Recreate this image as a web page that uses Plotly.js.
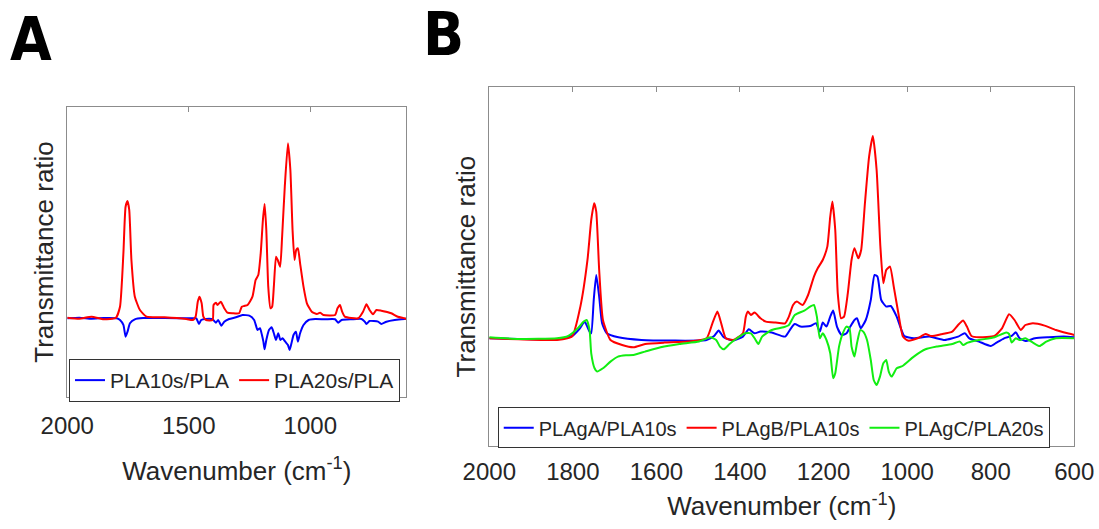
<!DOCTYPE html>
<html>
<head>
<meta charset="utf-8">
<script src="https://cdn.plot.ly/plotly-3.0.1.min.js"></script>
<style>
html,body{margin:0;padding:0;background:#fff;}
#chart{width:1099px;height:529px;}
</style>
</head>
<body>
<div id="chart"></div>
<script>
// ---------- Panel A data ----------
var wnA_PLA10s = [2000,1950,1900,1850,1797,1783,1769,1760,1752,1742,1722,1688,1600,1483,1469,1458,1449,1429,1402,1388,1379,1366,1354,1334,1306,1279,1251,1231,1217,1207,1199,1193,1188,1181,1170,1159,1150,1141,1132,1123,1114,1103,1092,1085,1076,1069,1059,1051,1042,1028,1007,980,939,898,885,871,830,789,776,769,756,721,708,687,653,612,605];
var ratioA_PLA10s = [0.997,1.003,0.993,1.0,0.997,0.980,0.930,0.813,0.863,0.947,0.987,1.0,1.0,0.997,0.997,0.940,0.980,0.990,0.987,0.953,0.980,0.923,0.963,0.990,1.007,1.030,1.023,0.980,0.880,0.897,0.830,0.763,0.687,0.780,0.880,0.907,0.847,0.780,0.847,0.780,0.797,0.763,0.730,0.680,0.763,0.830,0.863,0.763,0.847,0.930,0.980,0.990,0.987,0.987,0.953,0.980,0.987,0.990,0.963,0.940,0.970,0.963,0.940,0.963,0.980,0.990,0.993];

var wnA_PLA20s = [2000,1950,1900,1850,1800,1783,1769,1760,1752,1745,1736,1722,1701,1674,1600,1510,1483,1472,1463,1456,1447,1440,1429,1402,1398,1388,1382,1368,1354,1341,1320,1293,1282,1272,1258,1238,1225,1214,1204,1195,1188,1181,1173,1164,1157,1150,1141,1134,1124,1116,1105,1092,1082,1073,1065,1058,1051,1042,1028,1014,994,973,960,946,898,888,878,869,858,803,783,769,756,742,728,708,667,640,612,605];
var ratioA_PLA20s = [1.003,0.993,1.013,0.987,1.003,1.113,1.647,2.113,2.170,2.080,1.580,1.213,1.080,1.013,1.007,0.990,0.980,1.013,1.163,1.213,1.147,1.013,0.980,0.980,1.130,1.153,1.130,1.163,1.097,1.053,1.047,1.047,1.113,1.120,1.130,1.213,1.380,1.430,1.647,1.980,2.140,1.880,1.313,1.097,1.113,1.313,1.613,1.580,1.513,1.813,2.313,2.747,2.480,1.880,1.580,1.680,1.697,1.547,1.313,1.147,1.063,1.040,1.053,1.030,1.030,1.097,1.130,1.063,1.013,0.997,1.063,1.137,1.080,1.037,1.080,1.073,1.047,1.013,0.997,0.990];

// ---------- Panel B data ----------
var wnB_PLAgA = [2000,1930,1838,1802,1783,1772,1760,1756,1750,1744,1737,1730,1719,1691,1636,1563,1480,1462,1451,1439,1416,1393,1379,1365,1351,1324,1292,1278,1269,1255,1232,1218,1209,1202,1193,1184,1177,1168,1157,1145,1136,1126,1120,1111,1099,1087,1078,1071,1062,1050,1039,1025,1007,984,947,910,878,862,851,828,800,786,768,750,740,731,717,694,662,625,600];
var ratioB_PLAgA = [1.0,0.993,0.990,1.023,1.100,1.167,1.067,1.050,1.383,1.633,1.417,1.150,1.050,1.010,0.983,0.977,0.983,1.023,1.077,1.010,0.977,1.017,1.090,1.050,1.067,1.057,1.017,1.100,1.143,1.117,1.123,1.150,1.067,1.157,1.117,1.217,1.277,1.117,1.033,1.050,1.117,1.183,1.200,1.100,1.183,1.383,1.633,1.617,1.383,1.317,1.323,1.217,1.023,1.0,1.017,0.983,1.017,1.050,1.0,0.967,0.923,0.957,1.0,1.023,1.060,1.0,0.973,1.0,1.010,1.017,1.010];

var wnB_PLAgB = [2000,1930,1838,1802,1782,1765,1756,1749,1744,1737,1728,1710,1682,1655,1627,1581,1526,1480,1466,1454,1445,1434,1416,1393,1386,1381,1374,1365,1351,1338,1315,1292,1283,1273,1264,1250,1237,1223,1214,1202,1191,1184,1179,1172,1166,1158,1151,1142,1133,1126,1117,1110,1101,1091,1082,1073,1064,1057,1050,1041,1032,1021,1010,998,975,956,942,919,892,878,866,857,846,828,791,773,756,743,728,717,699,671,644,616,600];
var ratioB_PLAgB = [1.0,0.990,0.983,1.017,1.317,1.783,2.183,2.350,2.267,1.683,1.183,0.983,0.933,0.910,0.943,0.957,0.967,1.0,1.150,1.267,1.150,1.0,0.983,1.050,1.217,1.267,1.233,1.257,1.200,1.167,1.157,1.150,1.217,1.333,1.367,1.333,1.433,1.617,1.700,1.783,1.917,2.217,2.367,2.083,1.450,1.200,1.217,1.450,1.783,1.900,1.800,1.883,2.350,2.817,3.023,2.683,1.917,1.550,1.683,1.717,1.517,1.250,1.017,0.977,1.0,1.043,1.023,1.040,1.067,1.133,1.177,1.117,1.023,1.010,1.023,1.100,1.240,1.183,1.083,1.133,1.150,1.127,1.083,1.050,1.033];

var wnB_PLAgC = [2000,1930,1838,1811,1788,1774,1767,1760,1756,1748,1742,1728,1710,1692,1673,1655,1627,1590,1545,1498,1471,1457,1448,1439,1425,1407,1388,1374,1365,1356,1347,1324,1296,1283,1269,1246,1232,1223,1216,1209,1202,1193,1184,1177,1172,1163,1154,1145,1138,1133,1126,1120,1112,1105,1096,1087,1080,1073,1065,1057,1050,1044,1037,1025,1011,984,956,929,892,874,866,855,828,791,763,756,750,740,731,717,699,683,667,644,600];
var ratioB_PLAgC = [1.010,0.993,1.0,1.023,1.100,1.167,1.183,1.083,0.850,0.700,0.667,0.700,0.767,0.817,0.830,0.833,0.867,0.910,0.943,0.967,1.010,0.983,0.917,0.890,0.943,1.0,1.050,1.050,1.0,0.943,1.017,1.083,1.110,1.133,1.233,1.277,1.317,1.333,1.217,1.0,1.050,0.983,0.850,0.600,0.650,0.917,1.050,1.117,1.100,0.917,0.817,0.950,1.083,1.067,0.983,0.783,0.583,0.533,0.617,0.750,0.783,0.667,0.617,0.700,0.723,0.817,0.890,0.917,0.943,0.967,0.933,0.957,0.983,1.010,1.057,1.043,0.957,1.0,0.983,1.0,0.957,0.923,0.967,1.0,1.0];

var namesA = ['PLA10s/PLA','PLA20s/PLA'];
var namesB = ['PLAgA/PLA10s','PLAgB/PLA10s','PLAgC/PLA20s'];
var ticksA = [2000,1500,1000];
var ticksB = [2000,1800,1600,1400,1200,1000,800,600];

var BLUE = '#0000ff', RED = '#ff0000', GREEN = '#11ee11';
var FONT = 'Liberation Sans, Arial, Helvetica, sans-serif';
var TXT = '#262626';
var AXC = '#8c8c8c';

function ln(color){ return {color:color, width:2, shape:'spline', smoothing:0.5}; }

var traces = [
  {x: wnA_PLA10s, y: ratioA_PLA10s, name: namesA[0], xaxis:'x', yaxis:'y', legend:'legend', mode:'lines', line:ln(BLUE)},
  {x: wnA_PLA20s, y: ratioA_PLA20s, name: namesA[1], xaxis:'x', yaxis:'y', legend:'legend', mode:'lines', line:ln(RED)},
  {x: wnB_PLAgA, y: ratioB_PLAgA, name: namesB[0], xaxis:'x2', yaxis:'y2', legend:'legend2', mode:'lines', line:ln(BLUE)},
  {x: wnB_PLAgB, y: ratioB_PLAgB, name: namesB[1], xaxis:'x2', yaxis:'y2', legend:'legend2', mode:'lines', line:ln(RED)},
  {x: wnB_PLAgC, y: ratioB_PLAgC, name: namesB[2], xaxis:'x2', yaxis:'y2', legend:'legend2', mode:'lines', line:ln(GREEN)}
];

function xax(domain, range, tickvals, anchor, standoffLbl, titleStandoff){
  return {
    domain: domain, range: range, anchor: anchor,
    tickvals: tickvals, ticks:'inside', ticklen:5, tickcolor:AXC, tickwidth:1,
    showline:true, linecolor:AXC, linewidth:1, mirror:'ticks',
    showgrid:false, zeroline:false,
    tickfont:{family:FONT, size:24, color:TXT},
    ticklabelstandoff: standoffLbl,
    title:{text:'Wavenumber (cm<sup>-1</sup>)', font:{family:FONT,size:26,color:TXT}, standoff:titleStandoff}
  };
}
function yax(domain, range, anchor, standoff){
  return {
    domain: domain, range: range, anchor: anchor,
    showticklabels:false, ticks:'',
    showline:true, linecolor:AXC, linewidth:1, mirror:true,
    showgrid:false, zeroline:false,
    title:{text:'Transmittance ratio', font:{family:FONT,size:26,color:TXT}, standoff:standoff}
  };
}

var layout = {
  width:1099, height:529,
  margin:{l:0,r:0,t:0,b:0},
  paper_bgcolor:'#ffffff', plot_bgcolor:'#ffffff',
  showlegend:true,
  xaxis: xax([0.0612,0.3697],[2000,605],ticksA,'y',7,23),
  yaxis: yax([0.2490,0.7983],[0.207,3.113],'x',5),
  xaxis2: xax([0.4452,0.9775],[2000,600],ticksB,'y2',4,13),
  yaxis2: yax([0.1569,0.8350],[-0.077,3.510],'x2',5),
  legend:{x:0.0628, y:0.3214, xanchor:'left', yanchor:'top', orientation:'h',
          bordercolor:'#333333', borderwidth:1, bgcolor:'#ffffff',
          font:{family:FONT,size:21,color:TXT}, itemwidth:30, tracegroupgap:0},
  legend2:{x:0.4529, y:0.2300, xanchor:'left', yanchor:'top', orientation:'h',
          bordercolor:'#333333', borderwidth:1, bgcolor:'#ffffff',
          font:{family:FONT,size:20,color:TXT}, itemwidth:30, tracegroupgap:0},
  annotations:[
    {text:'<b>A</b>', x:30.5/1099, y:1-38.5/529, xref:'paper', yref:'paper', showarrow:false,
     xanchor:'center', yanchor:'middle', font:{family:'Liberation Sans Narrow, DejaVu Sans Condensed, Liberation Sans, Arial', size:60, color:'#000'}},
    {text:'<b>B</b>', x:443.5/1099, y:1-34/529, xref:'paper', yref:'paper', showarrow:false,
     xanchor:'center', yanchor:'middle', font:{family:'Liberation Sans Narrow, DejaVu Sans Condensed, Liberation Sans, Arial', size:60, color:'#000'}}
  ]
};

Plotly.newPlot('chart', traces, layout, {staticPlot:true, displayModeBar:false});
</script>
</body>
</html>
